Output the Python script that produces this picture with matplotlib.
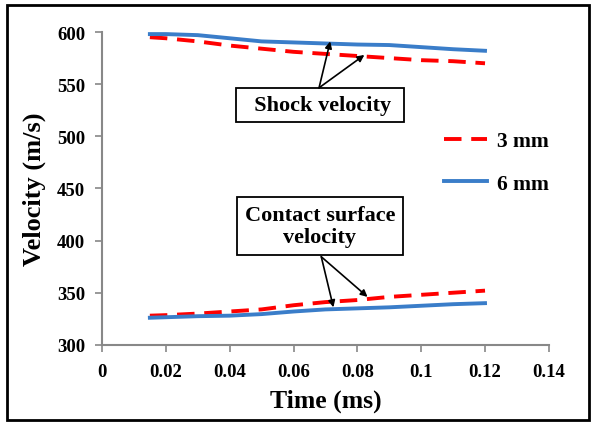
import matplotlib.pyplot as plt
from matplotlib.patches import Rectangle

# time (ms) and velocities (m/s)
time_ms = [0.015, 0.02, 0.03, 0.04, 0.05, 0.06, 0.07, 0.08, 0.09, 0.10, 0.11, 0.12]
shock_3mm = [595, 594, 591, 587, 584, 581, 579, 577, 575, 573, 572, 570]
shock_6mm = [598, 598, 597, 594, 591, 590, 589, 588, 587.5, 585.5, 583.5, 582]
contact_3mm = [328, 328.5, 330, 332, 334, 338, 341, 343, 346, 348, 350, 352]
contact_6mm = [326, 326.5, 327.5, 328, 329.5, 332, 334, 335, 336, 337.5, 339, 340]

xticks = [0, 0.02, 0.04, 0.06, 0.08, 0.1, 0.12, 0.14]
xtick_labels = ['0', '0.02', '0.04', '0.06', '0.08', '0.1', '0.12', '0.14']
yticks = [300, 350, 400, 450, 500, 550, 600]

plt.rcParams['font.family'] = ['Liberation Serif', 'DejaVu Serif']
plt.rcParams['font.weight'] = 'bold'

fig = plt.figure(figsize=(5.94, 4.27), dpi=100)
ax = fig.add_axes([0.1717, 0.19, 0.7523, 0.7327])

red = '#ff0000'
blue = '#3a7dc9'
l3, = ax.plot(time_ms, shock_3mm, color=red, lw=2.8, dashes=(4.5, 2.5), label='3 mm')
ax.plot(time_ms, contact_3mm, color=red, lw=2.8, dashes=(4.5, 2.5))
l6, = ax.plot(time_ms, shock_6mm, color=blue, lw=2.8, label='6 mm')
ax.plot(time_ms, contact_6mm, color=blue, lw=2.8)

ax.set_xlim(0, 0.14)
ax.set_ylim(300, 600)
ax.set_xticks(xticks)
ax.set_xticklabels(xtick_labels)
ax.set_yticks(yticks)
ax.tick_params(labelsize=13.5, colors='black', length=5, width=1.2, color='#888888')
ax.tick_params(axis='y', pad=7)
ax.tick_params(axis='x', pad=8)
for lab in ax.get_xticklabels() + ax.get_yticklabels():
    lab.set_fontweight('bold')
for side in ['top', 'right']:
    ax.spines[side].set_visible(False)
for side in ['left', 'bottom']:
    ax.spines[side].set_color('#888888')
    ax.spines[side].set_linewidth(1.5)

ax.set_xlabel('Time (ms)', fontsize=18.5, fontweight='bold', labelpad=6)
ax.set_ylabel('Velocity (m/s)', fontsize=19, fontweight='bold', labelpad=8)

ax.legend(handles=[l3, l6], loc='upper left', bbox_to_anchor=(0.722, 0.745),
          frameon=False, fontsize=15.5, handlelength=2.0, labelspacing=1.05,
          handletextpad=0.45)

# text boxes with arrows
arr = dict(arrowstyle='-|>', color='black', lw=1.2, mutation_scale=10, shrinkA=0, shrinkB=0)
ax.text(0.0683, 530, '  Shock velocity ', ha='center', va='center',
        fontsize=16, fontweight='bold',
        bbox=dict(boxstyle='square,pad=0.33', fc='white', ec='black', lw=1.3))
ax.annotate('', xy=(0.0715, 591), xytext=(0.068, 546.5), arrowprops=arr)
ax.annotate('', xy=(0.0822, 578), xytext=(0.068, 546.5), arrowprops=arr)

ax.text(0.0683, 414, 'Contact surface\nvelocity', ha='center', va='center',
        fontsize=16, fontweight='bold', linespacing=1.15,
        bbox=dict(boxstyle='square,pad=0.35', fc='white', ec='black', lw=1.3))
ax.annotate('', xy=(0.0725, 336), xytext=(0.0687, 384.5), arrowprops=arr)
ax.annotate('', xy=(0.0832, 346), xytext=(0.0687, 384.5), arrowprops=arr)

# outer frame
fig.patches.append(Rectangle((7 / 594, 6 / 427), 582 / 594, 415 / 427,
                             transform=fig.transFigure, fill=False,
                             ec='black', lw=2))

fig.savefig('out.png', dpi=100)
